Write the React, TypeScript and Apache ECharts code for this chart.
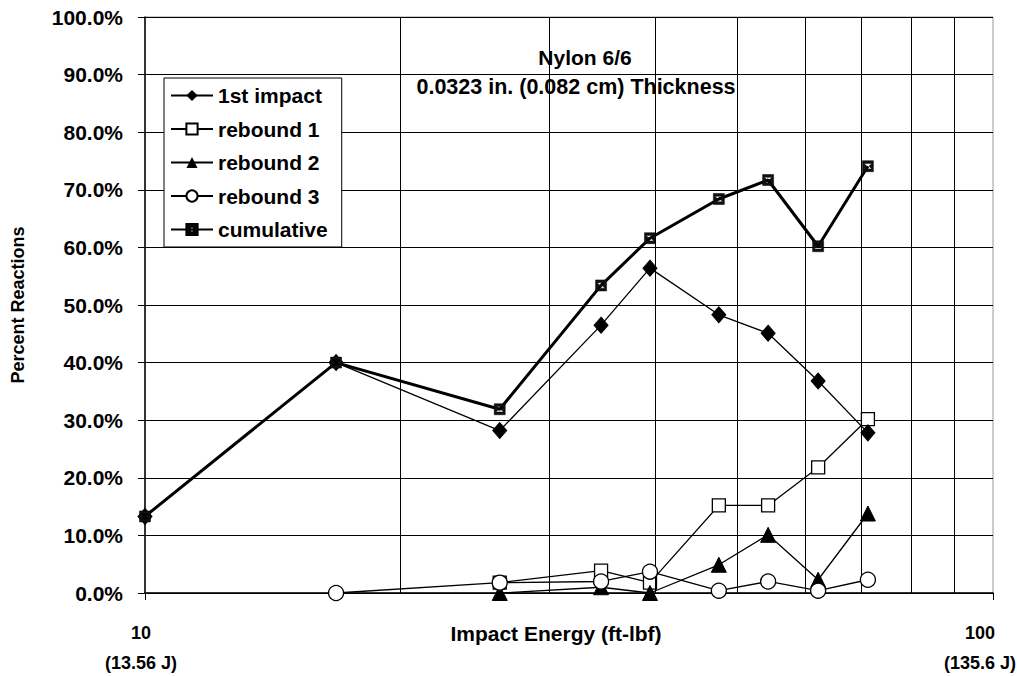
import React, { useEffect, useRef } from "react";
import * as echarts from "echarts";

const energies = [10, 16.8, 26.2, 34.5, 39.4, 47.5, 54.3, 62.2, 71.2];
const firstImpact = [13.3, 40.0, 28.2, 46.5, 56.4, 48.3, 45.1, 36.8, 27.8];
const rebound1 = [null, null, 1.8, 3.9, 1.8, 15.2, 15.2, 21.8, 30.2];
const rebound2 = [null, null, 0, 1.0, 0, 4.9, 10.1, 2.3, 13.8];
const rebound3 = [null, 0, 1.8, 2.0, 3.7, 0.4, 2.0, 0.4, 2.3];
const cumulative = [13.3, 40.0, 31.9, 53.4, 61.6, 68.4, 71.7, 60.2, 74.1];
const minorGrid = [20, 30, 40, 50, 60, 70, 80, 90];
const yTicks = { min: 0, max: 100, interval: 10 };
const xLabels: Record<number, string> = {
  10: "{l|10}\n{l|(13.56 J)}",
  100: "{r|100}\n{r|(135.6 J)}",
};
const seriesNames = ["1st impact", "rebound 1", "rebound 2", "rebound 3", "cumulative"];

const FONT = "'Liberation Sans', Arial, sans-serif";

function pairs(vals: (number | null)[]) {
  const out: [number, number][] = [];
  vals.forEach((v, i) => {
    if (v !== null) out.push([energies[i], v]);
  });
  return out;
}

export default function App() {
  const ref = useRef<HTMLDivElement>(null);
  useEffect(() => {
    if (!ref.current) return;
    const chart = echarts.init(ref.current, null, { renderer: "svg" });
    const lineBase = { color: "#000", width: 1.3 };
    const tickText = {
      color: "#000",
      fontFamily: FONT,
      fontWeight: "bold" as const,
      fontSize: 18,
      lineHeight: 30,
    };
    chart.setOption({
      animation: false,
      backgroundColor: "#fff",
      textStyle: { fontFamily: FONT },
      grid: {
        left: 145,
        right: 24,
        top: 17,
        bottom: 83,
        show: true,
        borderColor: "#999",
        borderWidth: 1,
        outerBoundsMode: "none",
        containLabel: false,
      },
      xAxis: {
        type: "log",
        logBase: 10,
        min: 10,
        max: 100,
        axisLine: { show: true, onZero: false, lineStyle: { color: "#000", width: 1.5 } },
        axisTick: { show: true, length: 7, lineStyle: { color: "#000" } },
        splitLine: { show: false },
        axisLabel: {
          ...tickText,
          margin: 25,
          formatter: (v: number) => xLabels[Math.round(v)] ?? "",
          rich: {
            l: { ...tickText, padding: [0, 8, 0, 0] },
            r: { ...tickText, padding: [0, 26, 0, 0] },
          },
        },
      },
      yAxis: {
        type: "value",
        min: yTicks.min,
        max: yTicks.max,
        interval: yTicks.interval,
        axisLine: { show: true, lineStyle: { color: "#000", width: 1.5 } },
        axisTick: { show: true, length: 7, lineStyle: { color: "#000" } },
        splitLine: { show: true, lineStyle: { color: "#000", width: 1 } },
        axisLabel: {
          color: "#000",
          fontFamily: FONT,
          fontWeight: "bold",
          fontSize: 21,
          margin: 22,
          formatter: (v: number) => v.toFixed(1) + "%",
        },
      },
      legend: {
        data: seriesNames,
        orient: "vertical",
        left: 164,
        top: 78,
        padding: [7, 14, 7, 6],
        itemGap: 12.5,
        itemWidth: 42,
        itemHeight: 14,
        backgroundColor: "#fff",
        borderColor: "#000",
        borderWidth: 1,
        selectedMode: false,
        textStyle: {
          color: "#000",
          fontFamily: FONT,
          fontWeight: "bold",
          fontSize: 21,
          lineHeight: 21,
        },
      },
      graphic: [
        {
          type: "text",
          x: 585,
          y: 57,
          style: {
            text: "Nylon 6/6",
            font: `bold 21px ${FONT}`,
            fill: "#000",
            textAlign: "center",
            textVerticalAlign: "middle",
          },
        },
        {
          type: "text",
          x: 576,
          y: 87,
          style: {
            text: "0.0323 in. (0.082 cm) Thickness",
            font: `bold 21.5px ${FONT}`,
            fill: "#000",
            textAlign: "center",
            textVerticalAlign: "middle",
          },
        },
        {
          type: "text",
          x: 556,
          y: 633,
          style: {
            text: "Impact Energy (ft-lbf)",
            font: `bold 21px ${FONT}`,
            fill: "#000",
            textAlign: "center",
            textVerticalAlign: "middle",
          },
        },
        {
          type: "text",
          x: 18,
          y: 305,
          rotation: Math.PI / 2,
          style: {
            text: "Percent Reactions",
            font: `bold 18px ${FONT}`,
            fill: "#000",
            textAlign: "center",
            textVerticalAlign: "middle",
          },
        },
      ],
      series: [
        {
          name: "gridlines",
          type: "line",
          data: [],
          z: 1,
          silent: true,
          markLine: {
            silent: true,
            symbol: "none",
            label: { show: false },
            lineStyle: { color: "#000", width: 1, type: "solid" },
            data: minorGrid.map((v) => ({ xAxis: v })),
          },
        },
        {
          name: "1st impact",
          type: "line",
          z: 4,
          data: pairs(firstImpact),
          symbol: "diamond",
          symbolSize: [14, 16],
          lineStyle: lineBase,
          itemStyle: { color: "#000", borderColor: "#000" },
        },
        {
          name: "rebound 1",
          type: "line",
          z: 2,
          data: pairs(rebound1),
          symbol: "rect",
          symbolSize: 13,
          lineStyle: lineBase,
          itemStyle: { color: "#fff", borderColor: "#000", borderWidth: 1.3 },
        },
        {
          name: "rebound 2",
          type: "line",
          z: 3,
          data: pairs(rebound2),
          symbol: "triangle",
          symbolSize: 15,
          lineStyle: lineBase,
          itemStyle: { color: "#000", borderColor: "#000" },
        },
        {
          name: "rebound 3",
          type: "line",
          z: 5,
          data: pairs(rebound3),
          symbol: "circle",
          symbolSize: 15,
          lineStyle: lineBase,
          itemStyle: { color: "#fff", borderColor: "#000", borderWidth: 1.3 },
        },
        {
          name: "cumulative",
          type: "line",
          z: 6,
          data: pairs(cumulative),
          symbol: "path://M0,0L10,0L10,10L0,10Z M1.5,2.5L4,5L1.5,7.5L8.5,7.5L6,5L8.5,2.5Z",
          symbolSize: 11,
          lineStyle: { color: "#000", width: 3 },
          itemStyle: { color: "#111", borderColor: "#000", borderWidth: 0.5 },
        },
      ],
    });
    return () => chart.dispose();
  }, []);
  return (
    <div
      ref={ref}
      style={{ position: "fixed", left: 0, top: 0, width: 1017, height: 676 }}
    />
  );
}
